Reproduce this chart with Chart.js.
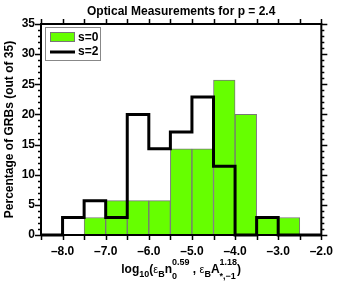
<!DOCTYPE html>
<html>
<head>
<meta charset="utf-8">
<script src="https://cdn.jsdelivr.net/npm/chart.js@4"></script>
<style>
  html, body { margin: 0; padding: 0; background: #fff; }
  #wrap { width: 342px; height: 284px; }
</style>
</head>
<body>
<div id="wrap"><canvas id="histo" width="342" height="284"></canvas></div>
<script>
// bin centres (bin width 0.5) and percentages
const binCenters = [-7.25, -6.75, -6.25, -5.75, -5.25, -4.75, -4.25, -3.75, -3.25, -2.75];
const s0Percent = [2.9, 5.7, 5.7, 5.7, 14.3, 14.3, 25.7, 20.0, 2.9, 2.9];

// step outline: left edge of each bin, the value holds to the next edge
const s2Edges = [-8.5, -8.0, -7.5, -7.0, -6.5, -6.0, -5.5, -5.0, -4.5, -4.0, -3.5, -3.0, -2.5, -2.0];
const s2Percent = [0, 2.9, 5.7, 2.9, 20.0, 14.3, 17.1, 22.9, 11.4, 0, 2.9, 0, 0, 0];

const xTickLabels = [-8.0, -7.0, -6.0, -5.0, -4.0, -3.0, -2.0];
const yTickLabels = [0, 5, 10, 15, 20, 25, 30, 35];
const seriesNames = ['s=0', 's=2'];

const FONT = '"Liberation Sans", Arial, Helvetica, sans-serif';
const GREEN = '#66ff00';

const frameAndText = {
    id: 'frameAndText',
    afterDraw(chart) {
        const ctx = chart.ctx;
        const area = chart.chartArea;
        const xs = chart.scales.x;
        const ys = chart.scales.y;
        ctx.save();

        // box round the plot
        ctx.strokeStyle = '#000';
        ctx.lineWidth = 2;
        ctx.strokeRect(area.left, area.top, area.right - area.left, area.bottom - area.top);

        // ticks on all four sides, pointing out
        ctx.lineWidth = 1.5;
        ctx.beginPath();
        for (let v = xs.min; v <= xs.max + 1e-9; v += 0.5) {
            const px = Math.round(xs.getPixelForValue(v)) + 0.5;
            ctx.moveTo(px, area.bottom); ctx.lineTo(px, area.bottom + 5);
            ctx.moveTo(px, area.top); ctx.lineTo(px, area.top - 5);
        }
        for (let v = ys.min; v <= ys.max; v += 1) {
            const py = Math.round(ys.getPixelForValue(v)) + 0.5;
            const len = v % 5 === 0 ? 6 : 3;
            ctx.moveTo(area.left, py); ctx.lineTo(area.left - len, py);
            ctx.moveTo(area.right, py); ctx.lineTo(area.right + len, py);
        }
        ctx.stroke();

        // legend
        const lx = area.left + 4, ly = area.top + 3;
        ctx.fillStyle = '#fff';
        ctx.fillRect(lx, ly, 55, 33);
        ctx.strokeStyle = '#888';
        ctx.lineWidth = 1;
        ctx.strokeRect(lx + 0.5, ly + 0.5, 55, 33);
        ctx.fillStyle = GREEN;
        ctx.fillRect(lx + 5, ly + 5, 25, 10);
        ctx.strokeStyle = '#777';
        ctx.strokeRect(lx + 5.5, ly + 5.5, 24, 9);
        ctx.strokeStyle = '#000';
        ctx.lineWidth = 3;
        ctx.beginPath();
        ctx.moveTo(lx + 5, ly + 25); ctx.lineTo(lx + 30, ly + 25);
        ctx.stroke();
        ctx.fillStyle = '#000';
        ctx.font = 'bold 12px ' + FONT;
        ctx.textAlign = 'left';
        ctx.textBaseline = 'middle';
        ctx.fillText(seriesNames[0], lx + 33, ly + 10.5);
        ctx.fillText(seriesNames[1], lx + 33, ly + 25);

        // titles
        const cx = (area.left + area.right) / 2;
        ctx.textAlign = 'center';
        ctx.textBaseline = 'alphabetic';
        ctx.fillText('Optical Measurements for p = 2.4', cx, 15);

        ctx.save();
        ctx.translate(13, (area.top + area.bottom) / 2);
        ctx.rotate(-Math.PI / 2);
        ctx.fillText('Percentage of GRBs (out of 35)', 0, 0);
        ctx.restore();

        // x title with sub/superscripts
        const big = 'bold 12px ' + FONT;
        const small = 'bold 9px ' + FONT;
        const eps = '11px ' + FONT;
        const base = 273;
        const parts = [
            ['log', big, 0], ['10', small, 4], ['(', big, 0],
            ['\u03b5', eps, 0], ['B', small, 4], ['n', big, 0], ['0.59|0', small, 0],
            [' , ', big, 0],
            ['\u03b5', eps, 0], ['B', small, 4], ['A', big, 0], ['1.18|*,\u22121', small, 0],
            [')', big, 0]
        ];
        let total = 0;
        const widths = parts.map(p => {
            ctx.font = p[1];
            let w;
            if (p[0].includes('|')) {
                const [sup, sub] = p[0].split('|');
                w = Math.max(ctx.measureText(sup).width, ctx.measureText(sub).width);
            } else {
                w = ctx.measureText(p[0]).width;
            }
            total += w;
            return w;
        });
        let x = cx - total / 2;
        ctx.textAlign = 'left';
        parts.forEach((p, i) => {
            ctx.font = p[1];
            if (p[0].includes('|')) {
                const [sup, sub] = p[0].split('|');
                ctx.fillText(sup, x, base - 8);
                ctx.fillText(sub, x, base + 6);
            } else {
                ctx.fillText(p[0], x, base + p[2]);
            }
            x += widths[i];
        });
        ctx.restore();
    }
};

const ctx = document.getElementById('histo').getContext('2d');
new Chart(ctx, {
    type: 'bar',
    data: {
        datasets: [
            {
                type: 'bar',
                label: seriesNames[0],
                data: binCenters.map((c, i) => ({ x: c, y: s0Percent[i] })),
                backgroundColor: GREEN,
                borderColor: '#777',
                borderWidth: 1,
                borderSkipped: false,
                barPercentage: 1,
                categoryPercentage: 1,
                order: 2
            },
            {
                type: 'line',
                label: seriesNames[1],
                data: s2Edges.map((e, i) => ({ x: e, y: s2Percent[i] })),
                stepped: 'before',
                borderColor: '#000',
                borderWidth: 3,
                pointRadius: 0,
                fill: false,
                clip: false,
                order: 1
            }
        ]
    },
    options: {
        responsive: false,
        animation: false,
        layout: { padding: { top: 24, right: 11, left: 0, bottom: 0 } },
        plugins: {
            legend: { display: false },
            tooltip: { enabled: false },
            title: { display: false }
        },
        scales: {
            x: {
                type: 'linear',
                min: -8.5,
                max: -2.0,
                offset: false,
                grid: { display: false, drawTicks: false },
                border: { display: false },
                afterBuildTicks: s => { s.ticks = xTickLabels.map(v => ({ value: v })); },
                afterFit: s => { s.height = 49; },
                ticks: {
                    padding: 9,
                    autoSkip: false,
                    maxRotation: 0,
                    color: '#000',
                    font: { family: FONT, size: 12, weight: 'bold' },
                    callback: v => v.toFixed(1).replace('-', '\u2013')
                }
            },
            y: {
                min: 0,
                max: 35,
                grid: { display: false, drawTicks: false },
                border: { display: false },
                afterBuildTicks: s => { s.ticks = yTickLabels.map(v => ({ value: v })); },
                afterFit: s => { s.width = 41; },
                ticks: {
                    padding: 6,
                    autoSkip: false,
                    color: '#000',
                    font: { family: FONT, size: 12, weight: 'bold' }
                }
            }
        }
    },
    plugins: [frameAndText]
});
</script>
</body>
</html>
